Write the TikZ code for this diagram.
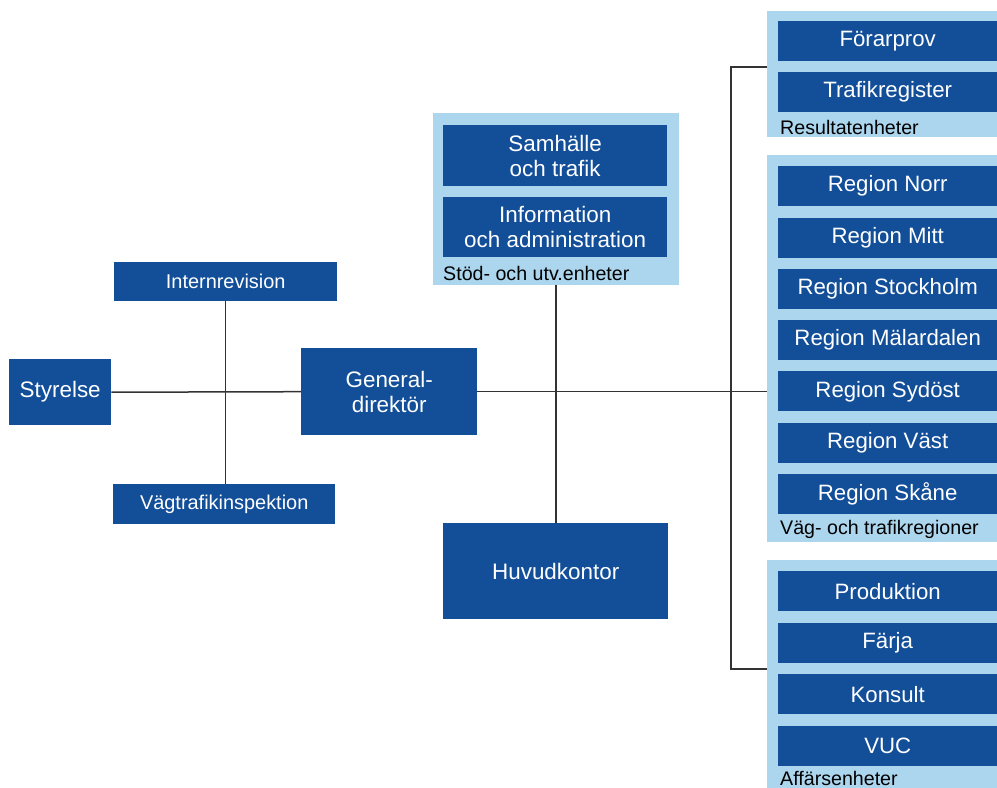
\documentclass[tikz,border=0pt]{standalone}
\usepackage{fontspec}
\setmainfont{Liberation Sans}
\usepackage{tikz}
\usetikzlibrary{positioning, calc}
\definecolor{unitBlue}{RGB}{19,79,153}
\definecolor{panelBlue}{RGB}{172,213,238}
\definecolor{lineGray}{gray}{0.2}

\begin{document}
\begin{tikzpicture}[x=1bp, y=-1bp,
    unit/.style={rectangle, fill=unitBlue, text=white, inner sep=0pt, align=center,
        anchor=north west, font=\fontsize{22.3}{25.5}\selectfont},
    bigunit/.style={unit, font=\fontsize{22.5}{25.5}\selectfont},
    smallunit/.style={unit, font=\fontsize{20}{24}\selectfont},
    panel/.style={rectangle, fill=panelBlue, inner sep=0pt, anchor=north west},
    grouplabel/.style={anchor=base west, inner sep=0pt, font=\fontsize{19.7}{23}\selectfont},
    link/.style={draw=lineGray, line width=1.5bp}]
    \useasboundingbox (0,0) rectangle (997,788);

    % Panels (light background)
    \node[panel, minimum width=246bp, minimum height=172bp] (stodPanel) at (433,113) {};
    \node[panel, minimum width=240bp, minimum height=126bp] (resPanel) at (767,11) {};
    \node[panel, minimum width=240bp, minimum height=387bp] (regPanel) at (767,155) {};
    \node[panel, minimum width=240bp, minimum height=240bp] (affPanel) at (767,560) {};

    % Left side
    \node[bigunit, minimum width=102bp, minimum height=66bp] (styrelse) at (9,359) {Styrelse};
    \node[smallunit, minimum width=223bp, minimum height=39bp] (intern) at (114,262) {Internrevision};
    \node[smallunit, minimum width=222bp, minimum height=40bp] (vti) at (113,484) {Vägtrafikinspektion};
    \node[bigunit, minimum width=176bp, minimum height=87bp] (gd) at (301,348) {General-\\direktör};
    \node[bigunit, minimum width=225bp, minimum height=96bp] (hk) at (443,523) {Huvudkontor};

    % Stöd- och utv.enheter
    \node[bigunit, minimum width=224bp, minimum height=61bp] (samhalle) at (443,125) {Samhälle\\och trafik};
    \node[bigunit, minimum width=224bp, minimum height=60bp] (info) at (443,197) {Information\\och administration};
    \node[grouplabel] (stodLabel) at (443,280) {Stöd- och utv.enheter};

    % Resultatenheter
    \node[unit, minimum width=219bp, minimum height=40bp] (forarprov) at (778,21) {Förarprov};
    \node[unit, minimum width=219bp, minimum height=40bp] (trafikreg) at (778,72) {Trafikregister};
    \node[grouplabel] (resLabel) at (780,134) {Resultatenheter};

    % Väg- och trafikregioner
    \foreach \name [count=\i from 0] in {Norr, Mitt, Stockholm, Mälardalen, Sydöst, Väst, Skåne}
        \node[unit, minimum width=219bp, minimum height=40bp] (region\i) at (778,{166+51.3*\i}) {Region \name};
    \node[grouplabel] (regLabel) at (780,534) {Väg- och trafikregioner};

    % Affärsenheter
    \foreach \name [count=\i from 0] in {Produktion, Färja, Konsult, VUC}
        \node[unit, minimum width=219bp, minimum height=40bp] (aff\i) at (778,{571+51.5*\i}) {\name};
    \node[grouplabel] (affLabel) at (780,785) {Affärsenheter};

    % Connectors
    \coordinate (busTop) at (731,67);
    \coordinate (busBot) at (731,669);
    \draw[link] (styrelse.east) -- (gd.west);
    \draw[link] (intern.south) -- (intern.south |- vti.north);
    \draw[link] (gd.east) -- (gd.east -| regPanel.west);
    \draw[link] (stodPanel.south) -- (stodPanel.south |- hk.north);
    \draw[link] (resPanel.west |- busTop) -- (busTop) -- (busBot) -- (affPanel.west |- busBot);
\end{tikzpicture}
\end{document}
